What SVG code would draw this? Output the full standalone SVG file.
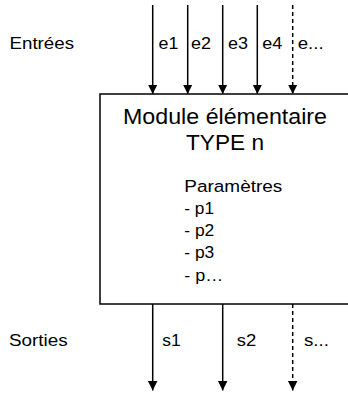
<svg xmlns="http://www.w3.org/2000/svg" width="348" height="394" viewBox="0 0 348 394">
<style>
.t{font-family:"Liberation Sans",Arial,sans-serif;font-size:16.8px;fill:#000}
.big{font-size:21.5px}
.ln{stroke:#000;stroke-width:1.5;fill:none}
.dash{stroke-dasharray:4 3}
.box{fill:#fff;stroke:#000;stroke-width:1.5}
</style>
<defs>
<marker id="ah" viewBox="0 0 10 10" refX="10" refY="5" markerWidth="9.5" markerHeight="10.5" orient="auto" markerUnits="userSpaceOnUse">
<path d="M0,0 L10,5 L0,10 z" fill="#000"/>
</marker>
</defs>
<rect width="348" height="394" fill="#fff"/>
<g id="module">
<rect class="box" x="100" y="94" width="260" height="210"/>
<text class="t big" x="225" y="123.5" text-anchor="middle" textLength="204" lengthAdjust="spacingAndGlyphs">Module élémentaire</text>
<text class="t big" x="225" y="149.5" text-anchor="middle" textLength="78" lengthAdjust="spacingAndGlyphs">TYPE n</text>
<text class="t" x="184.3" y="191.5" textLength="98" lengthAdjust="spacingAndGlyphs">Paramètres</text>
<text class="t" x="184.3" y="214" textLength="29.7" lengthAdjust="spacingAndGlyphs">- p1</text>
<text class="t" x="184.3" y="236" textLength="30" lengthAdjust="spacingAndGlyphs">- p2</text>
<text class="t" x="184.3" y="258" textLength="30" lengthAdjust="spacingAndGlyphs">- p3</text>
<text class="t" x="184.3" y="280.5" textLength="39" lengthAdjust="spacingAndGlyphs">- p…</text>
</g>
<g id="labels">
<text class="t" x="9.5" y="49" textLength="64.5" lengthAdjust="spacingAndGlyphs">Entrées</text>
<text class="t" x="9" y="346" textLength="58.7" lengthAdjust="spacingAndGlyphs">Sorties</text>
</g>
<g id="connectors">
<line class="ln" x1="152.7" y1="5" x2="152.7" y2="94" marker-end="url(#ah)"/>
<line class="ln" x1="187.7" y1="5" x2="187.7" y2="94" marker-end="url(#ah)"/>
<line class="ln" x1="222.7" y1="5" x2="222.7" y2="94" marker-end="url(#ah)"/>
<line class="ln" x1="257.3" y1="5" x2="257.3" y2="94" marker-end="url(#ah)"/>
<line class="ln dash" x1="292.7" y1="5" x2="292.7" y2="94" marker-end="url(#ah)"/>
<line class="ln" x1="152.7" y1="304" x2="152.7" y2="390.5" marker-end="url(#ah)"/>
<line class="ln" x1="222.7" y1="304" x2="222.7" y2="390.5" marker-end="url(#ah)"/>
<line class="ln dash" x1="292.7" y1="304" x2="292.7" y2="390.5" marker-end="url(#ah)"/>
<text class="t" x="158.5" y="49" textLength="19.8" lengthAdjust="spacingAndGlyphs">e1</text>
<text class="t" x="191" y="49" textLength="20" lengthAdjust="spacingAndGlyphs">e2</text>
<text class="t" x="228" y="49" textLength="20" lengthAdjust="spacingAndGlyphs">e3</text>
<text class="t" x="262.3" y="49" textLength="20" lengthAdjust="spacingAndGlyphs">e4</text>
<text class="t" x="297.7" y="49" textLength="26" lengthAdjust="spacingAndGlyphs">e...</text>
<text class="t" x="162.3" y="346" textLength="18.5" lengthAdjust="spacingAndGlyphs">s1</text>
<text class="t" x="236.7" y="346" textLength="19.5" lengthAdjust="spacingAndGlyphs">s2</text>
<text class="t" x="304" y="346" textLength="25" lengthAdjust="spacingAndGlyphs">s...</text>
</g>
</svg>
